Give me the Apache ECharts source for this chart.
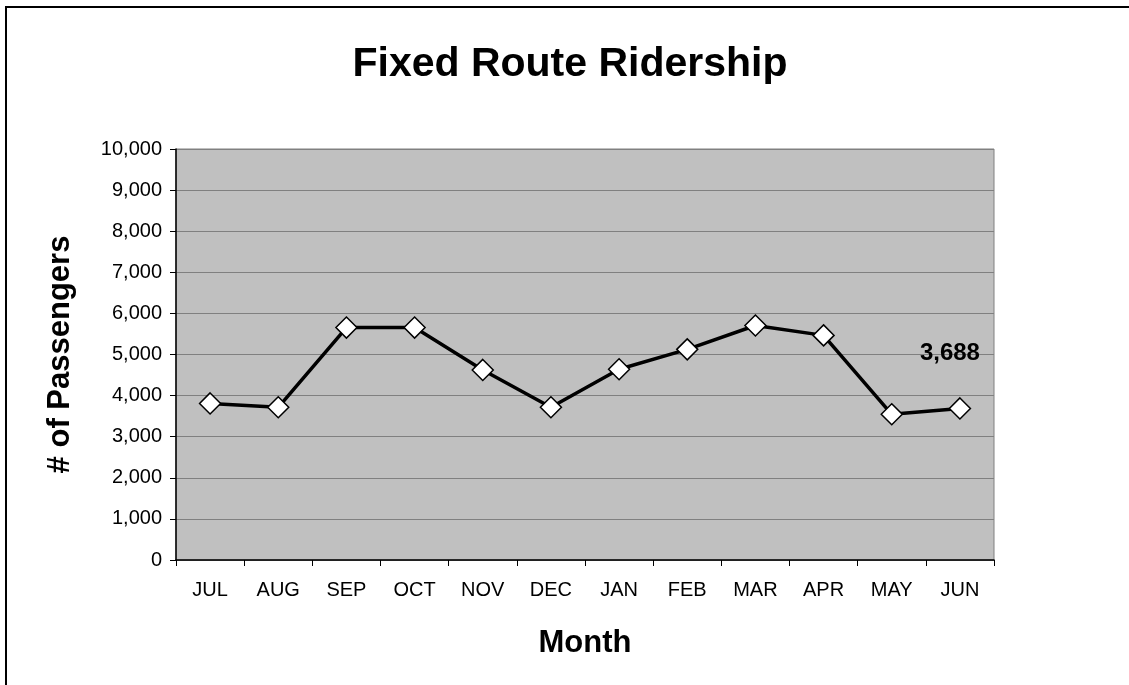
<!DOCTYPE html>
<html>
<head>
<meta charset="utf-8">
<script src="https://cdn.jsdelivr.net/npm/echarts@6/dist/echarts.min.js"></script>
<style>
html,body{margin:0;padding:0;background:#fff;}
#c{width:1129px;height:685px;}
</style>
</head>
<body>
<div id="c"></div>
<script>
var months = ['JUL','AUG','SEP','OCT','NOV','DEC','JAN','FEB','MAR','APR','MAY','JUN'];
var passengers = [3810, 3715, 5655, 5655, 4625, 3715, 4640, 5125, 5705, 5465, 3545, 3688];
var labelledIndex = 11;
var yMin = 0, yMax = 10000, yStep = 1000;

var chart = echarts.init(document.getElementById('c'), null, {renderer: 'canvas'});
var font = 'Liberation Sans, Arial, sans-serif';

var seriesData = passengers.map(function (v, i) {
  if (i === labelledIndex) {
    return {
      value: v,
      label: {
        show: true,
        position: 'inside',
        offset: [-10, -55],
        formatter: function (p) { return p.value.toLocaleString('en-US'); },
        fontFamily: font, fontWeight: 'bold', fontSize: 24, color: '#000'
      }
    };
  }
  return v;
});

chart.setOption({
  animation: false,
  backgroundColor: '#fff',
  title: {
    text: 'Fixed Route Ridership',
    left: 565, top: 39, textAlign: 'center',
    textStyle: {fontFamily: font, fontWeight: 'bold', fontSize: 41, color: '#000'}
  },
  graphic: [
    {type: 'line', shape: {x1: 5, y1: 7, x2: 1129, y2: 7}, style: {stroke: '#000', lineWidth: 2}},
    {type: 'line', shape: {x1: 6, y1: 6, x2: 6, y2: 685}, style: {stroke: '#000', lineWidth: 2}}
  ],
  grid: {
    left: 176, right: 135, top: 149, bottom: 125,
    show: true, backgroundColor: '#C0C0C0', borderColor: '#808080', borderWidth: 1
  },
  xAxis: {
    type: 'category',
    data: months,
    boundaryGap: true,
    name: 'Month',
    nameLocation: 'middle',
    nameGap: 68,
    nameTextStyle: {fontFamily: font, fontWeight: 'bold', fontSize: 31, color: '#000'},
    axisLine: {lineStyle: {color: '#000', width: 1.5}},
    axisTick: {show: true, length: 6, interval: 0, lineStyle: {color: '#000'}},
    axisLabel: {interval: 0, margin: 20, fontFamily: font, fontSize: 20, color: '#000'}
  },
  yAxis: {
    type: 'value',
    min: yMin, max: yMax, interval: yStep,
    name: '# of Passengers',
    nameLocation: 'middle',
    nameRotate: 90,
    nameGap: 100,
    nameTextStyle: {fontFamily: font, fontWeight: 'bold', fontSize: 31, color: '#000'},
    axisLine: {show: true, lineStyle: {color: '#000', width: 1.5}},
    axisTick: {show: true, length: 6, lineStyle: {color: '#000'}},
    axisLabel: {
      margin: 14, fontFamily: font, fontSize: 20, color: '#000',
      formatter: function (v) { return v.toLocaleString('en-US'); }
    },
    splitLine: {show: true, lineStyle: {color: '#808080', width: 1}}
  },
  series: [{
    type: 'line',
    data: seriesData,
    symbol: 'diamond',
    symbolSize: [21, 21],
    lineStyle: {color: '#000', width: 3.5},
    itemStyle: {color: '#fff', borderColor: '#000', borderWidth: 1.5},
    label: {show: false},
    emphasis: {disabled: true}
  }]
});
</script>
</body>
</html>
